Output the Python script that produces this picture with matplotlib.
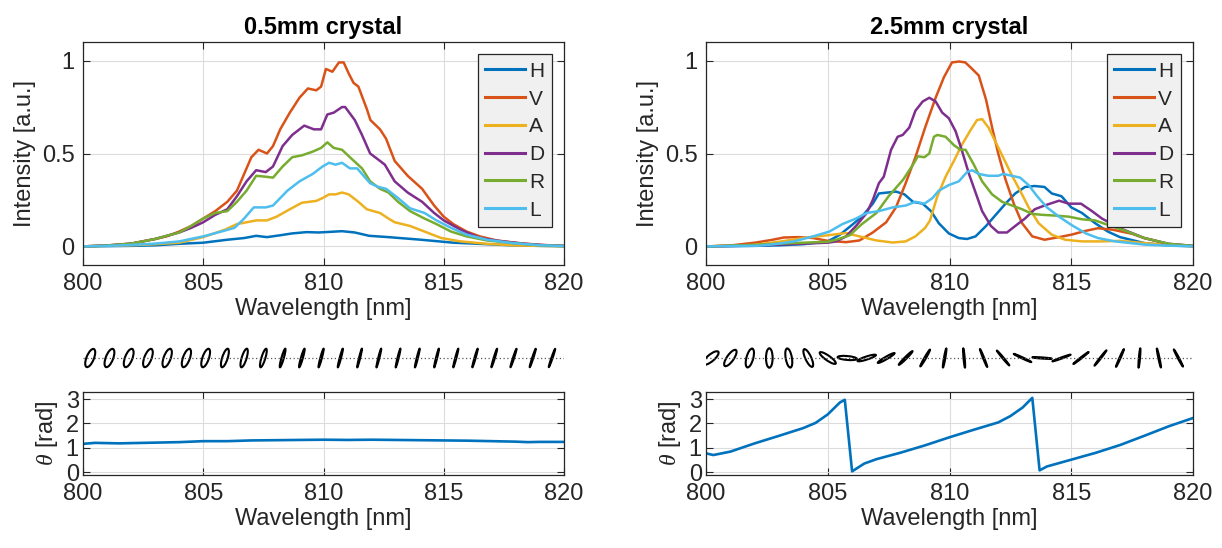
import numpy as np
import matplotlib
matplotlib.use("Agg")
import matplotlib.pyplot as plt
from matplotlib.collections import EllipseCollection

plt.rcParams['font.family'] = ['Liberation Sans', 'DejaVu Sans']
plt.rcParams['mathtext.fontset'] = 'custom'
plt.rcParams['mathtext.it'] = 'Liberation Serif:italic'

# ---------------- data: 0.5 mm crystal ----------------
titles = ["0.5mm crystal", "2.5mm crystal"]
labels = ["H", "V", "A", "D", "R", "L"]
colors = ["#0072BD", "#D95319", "#EDB120", "#7E2F8E", "#77AC30", "#4DBEEE"]

wl_a_H = [800, 802, 803, 804, 805, 806, 806.7, 807.2, 807.65, 808.2, 808.7, 809.3, 809.8, 810.23, 810.77, 811.3, 811.9, 812.7, 814.05, 815.4, 816.8, 818, 820]
in_a_H = [0, 0.003, 0.006, 0.014, 0.02, 0.036, 0.045, 0.057, 0.05, 0.06, 0.07, 0.077, 0.075, 0.078, 0.082, 0.075, 0.057, 0.05, 0.036, 0.02, 0.012, 0.005, 0.001]
wl_a_V = [800, 801, 802, 803, 803.5, 804, 804.5, 805, 805.5, 806, 806.4, 806.7, 807.0, 807.3, 807.65, 807.9, 808.2, 808.6, 809.0, 809.35, 809.7, 809.9, 810.1, 810.37, 810.64, 810.84, 811.05, 811.25, 811.45, 811.8, 811.95, 812.35, 812.6, 812.96, 813.5, 814.1, 814.6, 815, 815.4, 815.95, 816.5, 817.2, 818.1, 819, 820]
in_a_V = [0, 0.005, 0.015, 0.04, 0.055, 0.08, 0.11, 0.15, 0.19, 0.24, 0.30, 0.39, 0.48, 0.52, 0.50, 0.54, 0.63, 0.72, 0.80, 0.85, 0.84, 0.86, 0.955, 0.94, 0.99, 0.99, 0.93, 0.88, 0.86, 0.74, 0.68, 0.63, 0.58, 0.46, 0.38, 0.31, 0.22, 0.16, 0.12, 0.08, 0.054, 0.032, 0.018, 0.008, 0.003]
wl_a_A = [800, 801, 802, 803, 804, 805, 805.9, 806.4, 806.8, 807.2, 807.65, 808.05, 808.6, 809.1, 809.7, 809.96, 810.23, 810.5, 810.77, 811.05, 811.45, 811.8, 812.07, 812.35, 812.7, 812.96, 813.6, 814.2, 814.9, 815.7, 816.8, 818, 820]
in_a_A = [0, 0.003, 0.006, 0.012, 0.02, 0.05, 0.09, 0.12, 0.13, 0.14, 0.14, 0.16, 0.20, 0.235, 0.245, 0.26, 0.28, 0.28, 0.29, 0.28, 0.24, 0.20, 0.19, 0.18, 0.15, 0.13, 0.11, 0.08, 0.045, 0.027, 0.014, 0.005, 0.001]
wl_a_D = [800, 801, 802, 803, 804, 804.5, 805, 805.5, 806, 806.4, 806.8, 807.2, 807.6, 807.9, 808.3, 808.7, 809.2, 809.6, 809.9, 810.16, 810.43, 810.77, 810.9, 811.3, 811.6, 811.94, 812.35, 812.55, 812.96, 813.5, 814.1, 814.6, 815, 815.7, 816.5, 817.45, 818.4, 819.2, 820]
in_a_D = [0, 0.005, 0.015, 0.04, 0.075, 0.10, 0.13, 0.17, 0.2, 0.27, 0.35, 0.41, 0.40, 0.43, 0.54, 0.60, 0.65, 0.63, 0.63, 0.71, 0.72, 0.75, 0.75, 0.68, 0.60, 0.50, 0.46, 0.44, 0.35, 0.29, 0.24, 0.18, 0.14, 0.09, 0.045, 0.027, 0.014, 0.007, 0.003]
wl_a_R = [800, 801, 802, 803, 804, 804.5, 805, 805.5, 806, 806.4, 806.8, 807.2, 807.6, 807.9, 808.3, 808.7, 809.1, 809.55, 809.9, 810.16, 810.43, 810.77, 811.18, 811.6, 811.94, 812.35, 812.7, 813.1, 813.6, 814.2, 814.7, 815.3, 815.95, 816.8, 817.85, 819, 820]
in_a_R = [0, 0.005, 0.015, 0.04, 0.075, 0.11, 0.15, 0.18, 0.19, 0.24, 0.30, 0.38, 0.375, 0.37, 0.43, 0.48, 0.49, 0.51, 0.53, 0.56, 0.53, 0.52, 0.47, 0.42, 0.35, 0.31, 0.29, 0.24, 0.19, 0.15, 0.12, 0.08, 0.054, 0.032, 0.018, 0.006, 0.002]
wl_a_L = [800, 801, 802, 803, 804, 805, 805.75, 806.3, 806.7, 807.1, 807.6, 807.9, 808.5, 809.0, 809.55, 809.96, 810.23, 810.5, 810.77, 811.1, 811.4, 811.7, 811.94, 812.28, 812.6, 813.1, 813.6, 814.2, 814.7, 815.3, 815.95, 816.8, 817.85, 819, 820]
in_a_L = [0, 0.003, 0.008, 0.015, 0.027, 0.054, 0.08, 0.10, 0.15, 0.21, 0.21, 0.22, 0.30, 0.35, 0.39, 0.43, 0.45, 0.44, 0.45, 0.42, 0.42, 0.375, 0.34, 0.32, 0.31, 0.26, 0.205, 0.18, 0.14, 0.10, 0.063, 0.036, 0.018, 0.006, 0.002]

wl_a_theta = [800, 800.5, 801, 801.5, 802, 803, 804, 805, 806, 807, 808, 809, 810, 811, 812, 813, 814, 815, 816, 817, 818, 818.5, 819, 820]
theta_a = [1.16, 1.20, 1.19, 1.18, 1.19, 1.21, 1.23, 1.27, 1.27, 1.30, 1.31, 1.32, 1.33, 1.32, 1.33, 1.32, 1.31, 1.30, 1.29, 1.27, 1.25, 1.23, 1.24, 1.24]

# ---------------- data: 2.5 mm crystal ----------------
wl_b_H = [800, 802, 803, 804, 805, 805.5, 806, 806.4, 806.85, 807.1, 807.46, 807.8, 808.15, 808.5, 808.9, 809.24, 809.56, 809.97, 810.38, 810.72, 811.07, 811.5, 811.9, 812.3, 812.7, 813.1, 813.5, 813.9, 814.2, 814.6, 815.0, 815.44, 815.98, 816.5, 817, 818, 819, 820]
in_b_H = [0, 0.003, 0.006, 0.012, 0.027, 0.063, 0.116, 0.16, 0.23, 0.285, 0.29, 0.295, 0.28, 0.24, 0.23, 0.19, 0.125, 0.07, 0.045, 0.04, 0.054, 0.11, 0.17, 0.23, 0.285, 0.32, 0.325, 0.32, 0.285, 0.27, 0.21, 0.18, 0.125, 0.08, 0.05, 0.018, 0.005, 0.001]
wl_b_V = [800, 801, 802, 802.7, 803.2, 803.8, 804.4, 805, 805.75, 806.3, 806.85, 807.4, 807.8, 808.2, 808.6, 809.0, 809.43, 809.77, 810.1, 810.4, 810.65, 810.93, 811.2, 811.5, 811.75, 812.0, 812.3, 812.64, 812.98, 813.4, 813.9, 814.5, 815.0, 815.6, 816.1, 816.7, 817.5, 818, 819, 820]
in_b_V = [0, 0.005, 0.02, 0.035, 0.048, 0.05, 0.045, 0.03, 0.023, 0.032, 0.075, 0.13, 0.21, 0.34, 0.48, 0.64, 0.80, 0.91, 0.99, 0.995, 0.99, 0.955, 0.92, 0.79, 0.64, 0.50, 0.36, 0.23, 0.125, 0.054, 0.036, 0.05, 0.063, 0.084, 0.098, 0.09, 0.068, 0.045, 0.012, 0.002]
wl_b_A = [800, 802, 803, 804, 805, 805.75, 806.3, 807.0, 807.67, 808.2, 808.6, 809.0, 809.2, 809.5, 809.84, 810.18, 810.5, 810.86, 811.13, 811.34, 811.6, 811.9, 812.2, 812.57, 812.9, 813.25, 813.66, 814.2, 814.75, 815.44, 816.26, 817, 818, 819, 820]
in_b_A = [0, 0.008, 0.025, 0.045, 0.06, 0.072, 0.054, 0.032, 0.021, 0.027, 0.054, 0.10, 0.14, 0.27, 0.375, 0.46, 0.545, 0.625, 0.68, 0.685, 0.64, 0.56, 0.48, 0.38, 0.30, 0.21, 0.125, 0.063, 0.036, 0.027, 0.027, 0.03, 0.018, 0.007, 0.001]
wl_b_D = [800, 802, 803, 804, 805, 805.35, 805.75, 806.16, 806.6, 806.85, 807.1, 807.3, 807.6, 807.87, 808.08, 808.35, 808.6, 808.9, 809.17, 809.43, 809.7, 809.97, 810.25, 810.5, 810.8, 811.07, 811.34, 811.7, 812.0, 812.36, 812.7, 813.1, 813.5, 813.9, 814.5, 814.9, 815.4, 815.85, 816.26, 817, 818, 819, 820]
in_b_D = [0, 0.005, 0.01, 0.015, 0.02, 0.027, 0.054, 0.11, 0.18, 0.25, 0.34, 0.375, 0.52, 0.59, 0.60, 0.64, 0.73, 0.78, 0.80, 0.78, 0.72, 0.69, 0.62, 0.52, 0.39, 0.29, 0.19, 0.11, 0.075, 0.075, 0.11, 0.15, 0.20, 0.22, 0.246, 0.23, 0.23, 0.19, 0.15, 0.098, 0.045, 0.014, 0.003]
wl_b_R = [800, 802, 803, 804, 805, 805.35, 805.9, 806.4, 807.0, 807.5, 808.1, 808.5, 808.7, 808.97, 809.17, 809.36, 809.5, 809.84, 810.18, 810.45, 810.66, 811.0, 811.34, 811.75, 812.16, 812.57, 812.98, 813.4, 813.8, 814.34, 814.9, 815.44, 815.98, 816.5, 817.2, 818, 819, 820]
in_b_R = [0, 0.008, 0.015, 0.02, 0.025, 0.036, 0.06, 0.12, 0.18, 0.27, 0.36, 0.44, 0.485, 0.48, 0.50, 0.59, 0.60, 0.59, 0.545, 0.52, 0.52, 0.44, 0.35, 0.28, 0.24, 0.22, 0.20, 0.175, 0.17, 0.166, 0.16, 0.146, 0.14, 0.116, 0.085, 0.045, 0.014, 0.003]
wl_b_L = [800, 801, 802.2, 803, 803.6, 804.4, 805.07, 805.6, 806.16, 806.6, 807.1, 807.67, 808.2, 808.6, 808.97, 809.3, 809.56, 809.97, 810.38, 810.72, 810.93, 811.2, 811.6, 812.0, 812.2, 812.57, 812.9, 813.25, 813.6, 814.0, 814.5, 815.0, 815.6, 816.1, 816.8, 818, 819, 820]
in_b_L = [0, 0.002, 0.004, 0.015, 0.027, 0.054, 0.08, 0.12, 0.15, 0.18, 0.19, 0.21, 0.22, 0.24, 0.23, 0.26, 0.30, 0.33, 0.35, 0.40, 0.41, 0.39, 0.38, 0.38, 0.39, 0.38, 0.37, 0.33, 0.27, 0.21, 0.16, 0.116, 0.07, 0.045, 0.027, 0.01, 0.004, 0.001]

wl_b_theta = [800, 800.3, 801, 802, 803, 804, 804.5, 805, 805.5, 805.7, 806.0, 806.5, 807, 808, 809, 810, 811, 812, 812.5, 813, 813.4, 813.7, 814, 815, 816, 817, 818, 819, 820]
theta_b = [0.77, 0.70, 0.84, 1.18, 1.49, 1.81, 2.02, 2.37, 2.86, 2.97, 0.03, 0.35, 0.53, 0.80, 1.10, 1.43, 1.74, 2.04, 2.30, 2.65, 3.05, 0.07, 0.23, 0.51, 0.79, 1.11, 1.49, 1.88, 2.22]

# polarisation ellipses (position, orientation in degrees, minor/major ratio)
ell_wl_a = [800.3, 801.1, 801.9, 802.7, 803.5, 804.3, 805.1, 805.9, 806.7, 807.5, 808.3, 809.1, 809.9, 810.7, 811.5, 812.3, 813.1, 813.9, 814.7, 815.5, 816.3, 817.1, 817.9, 818.7, 819.5]
ell_ang_a = [68, 69, 69, 69, 70, 70, 71, 72, 73, 73, 74, 74, 75, 75, 76, 76, 76, 76, 76, 75, 74, 73, 72, 72, 71]
ell_rat_a = [0.38, 0.38, 0.38, 0.37, 0.36, 0.35, 0.33, 0.28, 0.25, 0.2, 0.12, 0.1, 0.08, 0.07, 0.06, 0.06, 0.06, 0.06, 0.06, 0.06, 0.06, 0.06, 0.06, 0.06, 0.06]
ell_wl_b = [800.2, 801.0, 801.8, 802.6, 803.4, 804.2, 805.0, 805.8, 806.6, 807.4, 808.2, 809.0, 809.8, 810.6, 811.4, 812.2, 813.0, 813.8, 814.6, 815.4, 816.2, 817.0, 817.8, 818.6, 819.4]
ell_ang_b = [40, 55, 75, 90, 100, 115, 145, 175, 18, 30, 45, 60, 80, 95, 112, 130, 155, 176, 20, 38, 52, 66, 85, 102, 118]
ell_rat_b = [0.35, 0.35, 0.35, 0.34, 0.32, 0.3, 0.25, 0.2, 0.16, 0.13, 0.1, 0.08, 0.07, 0.06, 0.06, 0.06, 0.06, 0.06, 0.06, 0.06, 0.06, 0.06, 0.06, 0.06, 0.06]

xticks = [800, 805, 810, 815, 820]

panels = [
    dict(title=titles[0],
         series=[(wl_a_H, in_a_H), (wl_a_V, in_a_V), (wl_a_A, in_a_A),
                 (wl_a_D, in_a_D), (wl_a_R, in_a_R), (wl_a_L, in_a_L)],
         th=(wl_a_theta, theta_a), ell=(ell_wl_a, ell_ang_a, ell_rat_a),
         left=83, right=564),
    dict(title=titles[1],
         series=[(wl_b_H, in_b_H), (wl_b_V, in_b_V), (wl_b_A, in_b_A),
                 (wl_b_D, in_b_D), (wl_b_R, in_b_R), (wl_b_L, in_b_L)],
         th=(wl_b_theta, theta_b), ell=(ell_wl_b, ell_ang_b, ell_rat_b),
         left=706, right=1193),
]

W, H = 1222, 548
fig = plt.figure(figsize=(W / 100, H / 100), dpi=100)

FS = 17
dark = '#262626'
gridc = '#dcdcdc'


def fr(l, r, top, bot):
    return [l / W, 1 - bot / H, (r - l) / W, (bot - top) / H]


def style(ax):
    ax.tick_params(direction='in', top=True, right=True, length=5, width=0.8,
                   labelsize=FS, colors=dark, pad=6)
    for s in ax.spines.values():
        s.set_color(dark)
        s.set_linewidth(0.9)
    ax.grid(True, color=gridc, lw=0.8)
    ax.set_axisbelow(True)


for p in panels:
    # intensity
    ax = fig.add_axes(fr(p['left'], p['right'], 42, 265))
    for (x, y), lab, c in zip(p['series'], labels, colors):
        ax.plot(x, y, color=c, lw=1.8, label=lab)
    ax.set_xlim(800, 820)
    ax.set_ylim(-0.1, 1.1)
    ax.set_xticks(xticks)
    ax.set_yticks([0, 0.5, 1])
    ax.set_yticklabels(['0', '0.5', '1'])
    style(ax)
    ax.set_xlabel('Wavelength [nm]', fontsize=FS, color=dark, labelpad=2)
    ax.set_ylabel('Intensity [a.u.]', fontsize=FS, color=dark, labelpad=4)
    ax.set_title(p['title'], fontsize=FS, fontweight='bold', color='black', pad=6)
    leg = ax.legend(loc='upper right', fontsize=15, handlelength=1.9,
                    handletextpad=0.2, labelspacing=0.42, borderaxespad=0.6,
                    borderpad=0.35, fancybox=False, framealpha=1)
    leg.get_frame().set_facecolor('#f0f0f0')
    leg.get_frame().set_edgecolor(dark)
    leg.get_frame().set_linewidth(0.9)
    for t in leg.get_texts():
        t.set_color(dark)
    for ln in leg.get_lines():
        ln.set_linewidth(2.2)

    # ellipses
    ea = fig.add_axes(fr(p['left'], p['right'], 343, 373))
    ea.set_xlim(800, 820)
    ea.set_ylim(-1, 1)
    ea.axis('off')
    ea.axhline(0, color='#555555', lw=0.9, ls=(0, (1, 2)))
    ewl, eang, erat = p['ell']
    major = np.full(len(ewl), 14.0)
    minor = major * np.asarray(erat)
    offs = np.column_stack([ewl, np.zeros(len(ewl))])
    ec = EllipseCollection(major, minor, eang, units='points', offsets=offs,
                           offset_transform=ea.transData, facecolors='none',
                           edgecolors='black', linewidths=1.5)
    ea.add_collection(ec)

    # theta
    tx = fig.add_axes(fr(p['left'], p['right'], 392, 475))
    tx.plot(p['th'][0], p['th'][1], color=colors[0], lw=1.9)
    tx.set_xlim(800, 820)
    tx.set_ylim(-0.12, 3.29)
    tx.set_xticks(xticks)
    tx.set_yticks([0, 1, 2, 3])
    style(tx)
    tx.tick_params(axis='y', pad=3)
    tx.set_xlabel('Wavelength [nm]', fontsize=FS, color=dark, labelpad=2)
    tx.set_ylabel(r'$\theta$ [rad]', fontsize=FS, color=dark, labelpad=4)

fig.savefig('out.png', dpi=100)
